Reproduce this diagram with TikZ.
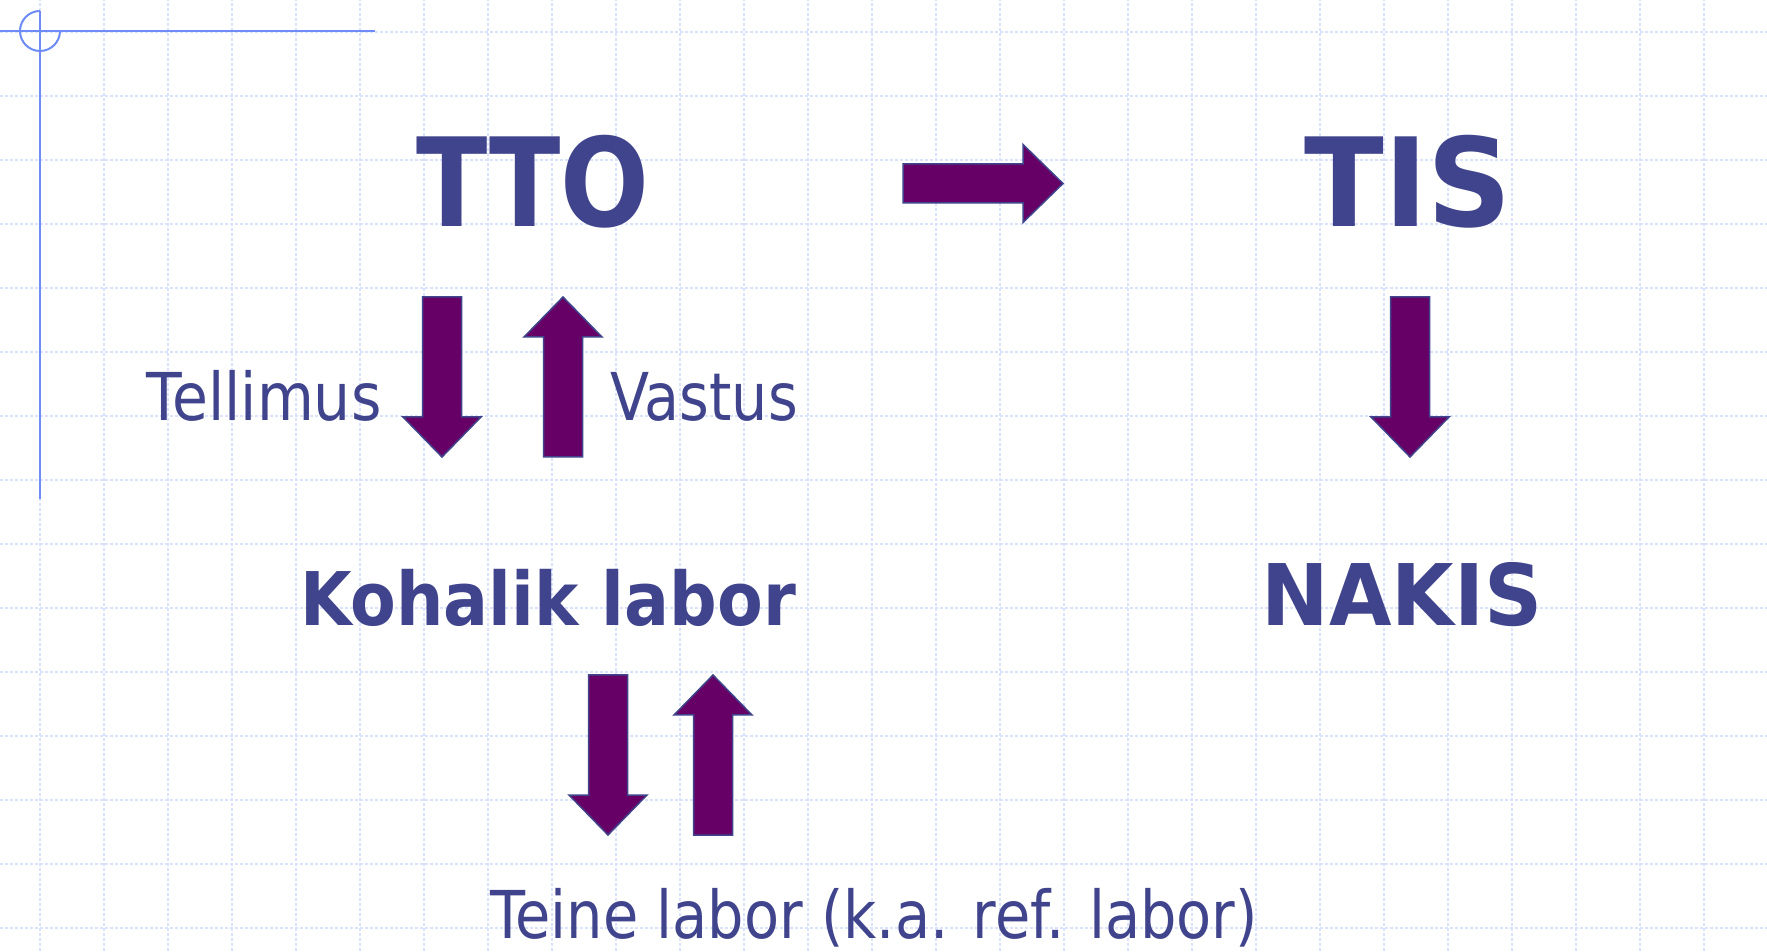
\documentclass[tikz,border=0pt]{standalone}
\usepackage{graphicx}
\usepackage{fontspec}
\setmainfont{DejaVu Sans}
\definecolor{txtblue}{RGB}{64,68,140}
\definecolor{arrfill}{RGB}{102,0,102}
\definecolor{gridc}{RGB}{218,226,252}
\definecolor{decob}{RGB}{110,140,245}
\tikzset{
  gridline/.style={gridc, line width=2pt, dash pattern=on 3pt off 2pt},
  decoline/.style={decob, line width=2pt},
  arrowbody/.style={fill=arrfill, draw=txtblue, line width=1.5pt, line join=miter},
  lbl/.style={text=txtblue, inner sep=0pt, anchor=base},
  blockarrow/.pic={
    \draw[arrowbody] (0,-19.5) -- (120,-19.5) -- (120,-39) -- (160,0) -- (120,39) -- (120,19.5) -- (0,19.5) -- cycle;
  }
}
\begin{document}
\begin{tikzpicture}[x=1pt,y=1pt]
\useasboundingbox (0,0) rectangle (1767,951);
\fill[white] (0,0) rectangle (1767,951);
% grid
\foreach \i in {0,...,27} {
  \draw[gridline] ({40+64*\i},0) -- ({40+64*\i},951);
}
\foreach \j in {0,...,14} {
  \draw[gridline] (0,{951-32-64*\j}) -- (1767,{951-32-64*\j});
}
% decoration lines
\draw[decoline] (0,920) -- (375,920);
\draw[decoline] (40,940) -- (40,452);
\draw[decoline] (40,940) arc[start angle=90, end angle=360, radius=20];
% texts
\node[lbl, font=\bfseries\fontsize{123}{130}\selectfont] (tto) at (533,724) {\scalebox{0.85}[1]{TTO}};
\node[lbl, font=\bfseries\fontsize{123}{130}\selectfont] (tis) at (1408,724) {\scalebox{0.95}[1]{TIS}};
\node[lbl, font=\fontsize{66}{70}\selectfont] (tell) at (264,530) {\scalebox{0.885}[1]{Tellimus}};
\node[lbl, font=\fontsize{66}{70}\selectfont] (vast) at (704,530) {\scalebox{0.865}[1]{Vastus}};
\node[lbl, font=\bfseries\fontsize{74}{80}\selectfont] (koh) at (548,325) {\scalebox{0.9}[1]{Kohalik labor}};
\node[lbl, font=\bfseries\fontsize{85}{90}\selectfont] (nakis) at (1402,325) {\scalebox{0.95}[1]{NAKIS}};
\node[lbl, font=\fontsize{66}{70}\selectfont] (teine) at (874,13) {\scalebox{0.87}[1]{Teine labor (k.a. ref. labor)}};
% arrows
\pic at (903,767.5) {blockarrow};
\pic[rotate=-90] at (442,654) {blockarrow};
\pic[rotate=90] at (563,494) {blockarrow};
\pic[rotate=-90] at (1410,654) {blockarrow};
\pic[rotate=-90] at (608,276) {blockarrow};
\pic[rotate=90] at (713,116) {blockarrow};
\end{tikzpicture}
\end{document}
